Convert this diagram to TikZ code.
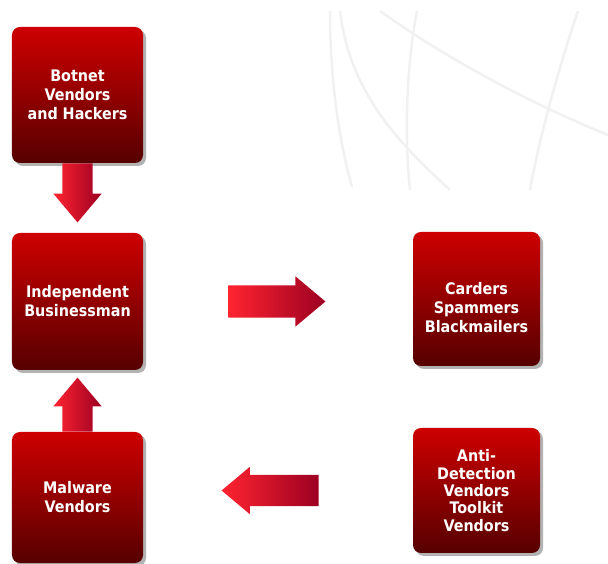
\documentclass[tikz,border=0pt]{standalone}
\usepackage{fontspec}
\setmainfont{DejaVu Sans Condensed}
\usetikzlibrary{shapes.arrows,shadows,calc}
\definecolor{boxtop}{RGB}{206,0,0}
\definecolor{boxbottom}{RGB}{86,0,0}
\definecolor{arrowlight}{RGB}{255,36,48}
\definecolor{arrowdark}{RGB}{156,0,34}
\definecolor{globeline}{RGB}{241,241,241}

\begin{document}
\begin{tikzpicture}[x=1bp,y=1bp,
    redbox/.style={rounded corners=8bp, top color=boxtop, bottom color=boxbottom,
        text=white, font=\bfseries\fontsize{16}{19}\selectfont, align=center, inner sep=0pt,
        drop shadow={shadow xshift=3bp, shadow yshift=-3bp, fill=black, opacity=0.3}},
    blockarrow/.style={single arrow, left color=arrowlight, right color=arrowdark,
        draw=none, inner xsep=0pt, inner ysep=15bp, single arrow head extend=9bp,
        single arrow tip angle=80, minimum height=#1, anchor=tail},
    uparrow/.style={blockarrow=#1, inner xsep=15bp, inner ysep=0pt}]
    \useasboundingbox (0,0) rectangle (608,564);

    \draw[globeline, line width=2.5bp] (330,553) .. controls (330,480) and (340,420) .. (352,377);
    \draw[globeline, line width=2.5bp] (340,553) .. controls (350,470) and (400,420) .. (450,374);
    \draw[globeline, line width=2.5bp] (417,553) .. controls (405,490) and (405,420) .. (410,374);
    \draw[globeline, line width=2.5bp] (380,553) .. controls (440,510) and (520,465) .. (608,429);
    \draw[globeline, line width=2.5bp] (578,553) .. controls (560,500) and (540,430) .. (530,374);

    \node[redbox, minimum width=131bp, minimum height=136bp] (botnet) at (77.5,469) {Botnet\\Vendors\\and Hackers};
    \node[redbox, minimum width=131bp, minimum height=137bp] (indep) at (77.5,262.5) {Independent\\Businessman};
    \node[redbox, minimum width=127bp, minimum height=134bp] (carders) at (476.5,265) {\mbox{}\\[10bp]Carders\\Spammers\\Blackmailers};
    \node[redbox, minimum width=131bp, minimum height=131bp] (malware) at (77.5,66.5) {Malware\\Vendors};
    \node[redbox, minimum width=127bp, minimum height=125bp, font=\bfseries\fontsize{16}{17.5}\selectfont] (anti) at (476.5,73.5) {Anti-\\Detection\\Vendors\\Toolkit\\Vendors};

    \node[uparrow=59bp, shape border rotate=270] (down) at (botnet.south) {};
    \node[uparrow=54bp, shape border rotate=90] (up) at (malware.north) {};
    \node[blockarrow=97bp, inner ysep=16bp] (right) at ($(indep.east)+(85,0)$) {};
    \node[blockarrow=97bp, inner ysep=15.5bp, single arrow head extend=8bp, shape border rotate=180] (left) at ($(anti.west)+(-94,0)$) {};
\end{tikzpicture}
\end{document}
